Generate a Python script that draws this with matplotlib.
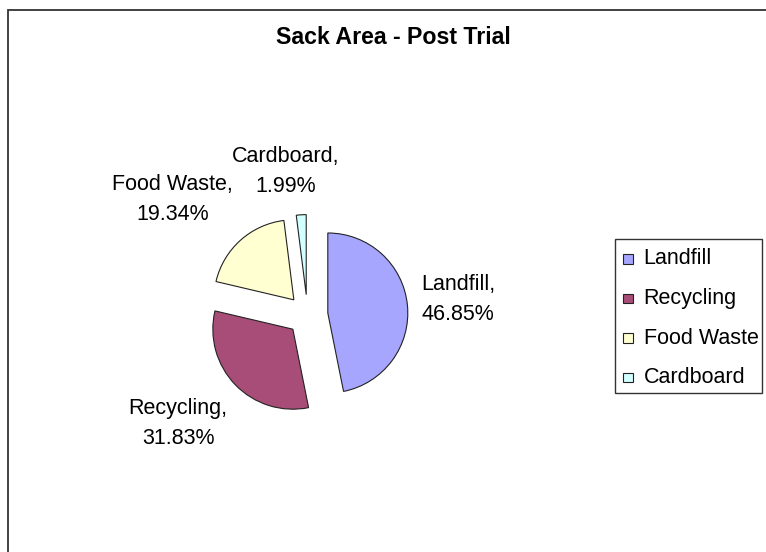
import matplotlib
matplotlib.use("Agg")
import matplotlib.pyplot as plt
from matplotlib.patches import Rectangle
import numpy as np

plt.rcParams['font.family'] = ['Liberation Sans', 'DejaVu Sans']

# Data
categories = ["Landfill", "Recycling", "Food Waste", "Cardboard"]
percentages = [46.85, 31.83, 19.34, 1.99]
title = "Sack Area - Post Trial"

# Styles
colors = ["#A6A6FF", "#A84C78", "#FFFFD2", "#D2FFFF"]
explode = [0.255, 0.255, 0.255, 0.255]
# label placement (angle in degrees, distance in radius units)
label_pos = [(6.0, 1.89), (-140.0, 2.11), (139.6, 2.22), (98.5, 1.81)]

W, H = 766, 552
fig = plt.figure(figsize=(W / 100, H / 100), dpi=100)

def fx(px):
    return px / W

def fy(py):
    return 1 - py / H

# outer chart border
fig.patches.append(Rectangle((fx(7.5), -0.1), 1.2, (H - 10) / H + 0.1,
                             transform=fig.transFigure, fill=False,
                             edgecolor="#333333", linewidth=1.3))

cx, cy, r = 307.5, 315.0, 80.0
half = 200.0
ax = fig.add_axes([(cx - half) / W, (H - cy - half) / H, 2 * half / W, 2 * half / H])
wedges, _ = ax.pie(percentages, colors=colors, explode=explode, startangle=90,
                   counterclock=False,
                   wedgeprops=dict(edgecolor="#222222", linewidth=0.8))
lim = half / r
ax.set_xlim(-lim, lim)
ax.set_ylim(-lim, lim)
ax.set_aspect('equal')
ax.axis('off')

for cat, pct, (ang, dist) in zip(categories, percentages, label_pos):
    a = np.deg2rad(ang)
    ax.text(dist * np.cos(a), dist * np.sin(a), f"{cat},\n{pct:.2f}%",
            ha="center", va="center", fontsize=15.5, linespacing=1.55,
            color="black")

fig.text(fx(393), fy(38), title, ha="center", va="center",
         fontsize=16.7, fontweight="bold")

# legend (Excel style)
lx0, ly0, lx1, ly1 = 615, 239, 762, 393
fig.patches.append(Rectangle((fx(lx0), fy(ly1)), fx(lx1) - fx(lx0), fy(ly0) - fy(ly1),
                             transform=fig.transFigure, fill=False,
                             edgecolor="#333333", linewidth=1.0))
row0, step, msz = 259.0, 39.5, 9.5
for i, (cat, col) in enumerate(zip(categories, colors)):
    yc = row0 + i * step
    fig.patches.append(Rectangle((fx(628 - msz / 2), fy(yc + msz / 2)), msz / W, msz / H,
                                 transform=fig.transFigure, facecolor=col,
                                 edgecolor="#222222", linewidth=0.8))
    fig.text(fx(643.5), fy(yc), cat, ha="left", va="center", fontsize=15.5,
             color="black")

fig.savefig("out.png", dpi=100)
